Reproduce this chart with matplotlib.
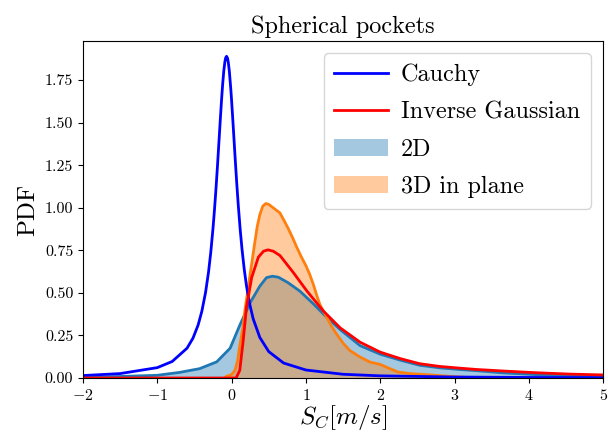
import matplotlib
matplotlib.use("Agg")
import matplotlib.pyplot as plt

plt.rcParams['font.family'] = 'serif'
plt.rcParams['font.serif'] = ['cmr10', 'DejaVu Serif']
plt.rcParams['mathtext.fontset'] = 'cm'
plt.rcParams['axes.formatter.use_mathtext'] = True
plt.rcParams['axes.unicode_minus'] = True

# Cauchy fit curve
cauchy_x = [-2, -1.5, -1, -0.8, -0.6, -0.52, -0.45, -0.4, -0.35, -0.31, -0.28, -0.25, -0.23,
            -0.21, -0.19, -0.17, -0.15, -0.135, -0.12, -0.105, -0.09, -0.08, -0.068, -0.055,
            -0.045, -0.03, -0.01, 0.0, 0.02, 0.035, 0.05, 0.07, 0.09, 0.115, 0.14, 0.17, 0.2,
            0.24, 0.29, 0.38, 0.5, 0.7, 1.0, 1.5, 2, 3, 4, 5]
cauchy_y = [0.0145, 0.026, 0.061, 0.097, 0.175, 0.234, 0.312, 0.393, 0.504, 0.624, 0.740, 0.881,
            0.991, 1.113, 1.247, 1.39, 1.533, 1.636, 1.728, 1.805, 1.859, 1.881, 1.89, 1.879,
            1.856, 1.80, 1.693, 1.629, 1.491, 1.383, 1.275, 1.139, 1.014, 0.875, 0.757, 0.639,
            0.542, 0.441, 0.348, 0.238, 0.155, 0.088, 0.047, 0.022, 0.0127, 0.0058, 0.0033, 0.0021]

# Inverse Gaussian fit curve
invg_x = [-2, 0.06, 0.11, 0.156, 0.2, 0.27, 0.36, 0.43, 0.49, 0.56, 0.65, 0.83, 1.01, 1.23,
          1.46, 1.73, 2.0, 2.27, 2.53, 2.8, 3.07, 3.3, 3.66, 4.1, 4.55, 5.0]
invg_y = [0.0, 0.0, 0.045, 0.22, 0.416, 0.59, 0.71, 0.745, 0.753, 0.745, 0.72, 0.62, 0.513, 0.396,
          0.295, 0.21, 0.152, 0.114, 0.084, 0.068, 0.058, 0.050, 0.041, 0.031, 0.023, 0.018]

# 2D distribution outline
d2_x = [-2, -1.5, -1.0, -0.7, -0.43, -0.2, -0.02, 0.11, 0.246, 0.38, 0.47, 0.55, 0.63, 0.76,
        0.92, 1.10, 1.28, 1.46, 1.73, 2.0, 2.27, 2.53, 2.8, 3.07, 3.3, 3.66, 4.1, 4.55, 5.0]
d2_y = [0.005, 0.009, 0.016, 0.033, 0.055, 0.095, 0.175, 0.31, 0.44, 0.54, 0.59, 0.598, 0.592, 0.56,
        0.51, 0.436, 0.357, 0.285, 0.19, 0.14, 0.105, 0.075, 0.06, 0.05, 0.043, 0.03, 0.02, 0.012, 0.008]

# 3D in plane distribution outline
d3_x = [-0.1, -0.07, 0.0, 0.045, 0.08, 0.11, 0.15, 0.18, 0.22, 0.246, 0.28, 0.31, 0.345, 0.38,
        0.42, 0.46, 0.5, 0.56, 0.65, 0.7, 0.76, 0.82, 0.875, 0.94, 1.0, 1.05, 1.1, 1.15, 1.19,
        1.28, 1.35, 1.41, 1.5, 1.59, 1.73, 1.86, 2.0, 2.13, 2.24, 2.4, 2.62, 2.8, 3.0, 3.3]
d3_y = [0.0, 0.01, 0.02, 0.045, 0.1, 0.19, 0.29, 0.40, 0.52, 0.60, 0.70, 0.79, 0.89, 0.96,
        1.01, 1.025, 1.02, 1.0, 0.97, 0.93, 0.88, 0.825, 0.77, 0.71, 0.66, 0.61, 0.55, 0.48, 0.43,
        0.357, 0.30, 0.26, 0.205, 0.162, 0.123, 0.094, 0.08, 0.055, 0.035, 0.026, 0.02, 0.014, 0.008, 0.0]

xticks = [-2, -1, 0, 1, 2, 3, 4, 5]
yticks = [0.0, 0.25, 0.5, 0.75, 1.0, 1.25, 1.5, 1.75]

fig = plt.figure(figsize=(6.08, 4.36), dpi=100)
ax = fig.add_axes([0.1365, 0.133, 0.8555, 0.773])

c_blue = '#1f77b4'
c_orange = '#ff7f0e'

ax.fill_between(d2_x, d2_y, 0, color=c_blue, alpha=0.4, linewidth=0, label='2D')
ax.plot(d2_x, d2_y, color=c_blue, lw=2)
ax.fill_between(d3_x, d3_y, 0, color=c_orange, alpha=0.4, linewidth=0, label='3D in plane')
ax.plot(d3_x, d3_y, color=c_orange, lw=2)

ax.plot(cauchy_x, cauchy_y, color='blue', lw=2, label='Cauchy')
ax.plot(invg_x, invg_y, color='red', lw=2, label='Inverse Gaussian')

ax.set_xlim(-2, 5)
ax.set_ylim(0, 1.98)
ax.set_xticks(xticks)
ax.set_yticks(yticks)
ax.set_yticklabels([f'{v:.2f}' for v in yticks])
ax.tick_params(labelsize=11.5)

ax.set_title('Spherical pockets', fontsize=17.5)
ax.set_xlabel('$S_C[m/s]$', fontsize=18, labelpad=0)
ax.set_ylabel('PDF', fontsize=18, labelpad=4)

handles, labels = ax.get_legend_handles_labels()
order = [labels.index(n) for n in ['Cauchy', 'Inverse Gaussian', '2D', '3D in plane']]
ax.legend([handles[i] for i in order], [labels[i] for i in order], loc='upper right',
          fontsize=17.4, handlelength=2.2, handletextpad=0.55, labelspacing=0.62,
          borderpad=0.45)

fig.savefig('out.png', dpi=100)
